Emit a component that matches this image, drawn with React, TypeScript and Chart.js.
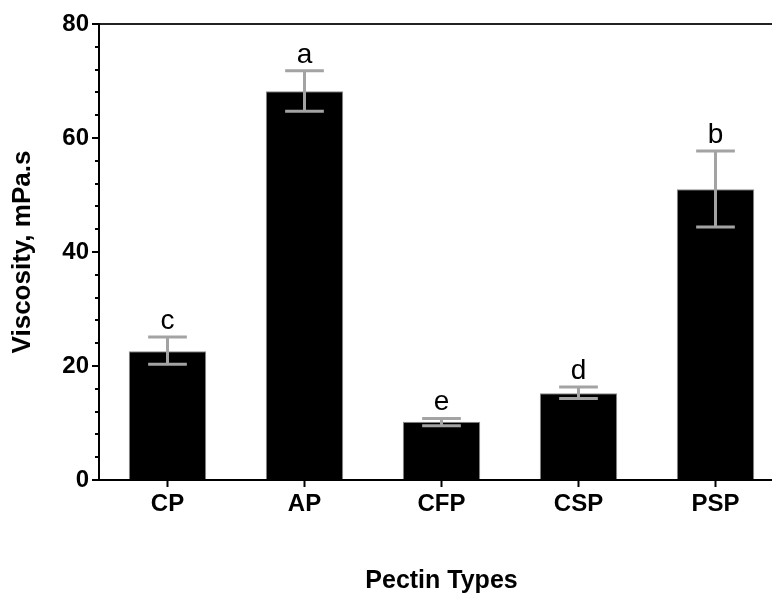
import React, { useEffect, useRef } from "react";
import { Chart, registerables } from "chart.js";

Chart.register(...registerables);

// Pectin types and their measured viscosity (mean ± error bounds)
const categories = ["CP", "AP", "CFP", "CSP", "PSP"];
const viscosity = [22.6, 68.2, 10.2, 15.2, 51.0];
const errorUpper = [25.1, 71.8, 10.8, 16.3, 57.7];
const errorLower = [20.3, 64.7, 9.5, 14.3, 44.4];
const groupLetters = ["c", "a", "e", "d", "b"];
const yTicks = [0, 20, 40, 60, 80];
const yMinorStep = 4;

const FONT = '"Liberation Sans", Arial, Helvetica, sans-serif';
const W = 790;
const H = 596;

// Error bars, significance letters and minor y ticks
const overlayPlugin = {
  id: "overlay",
  afterDatasetsDraw(chart: any) {
    const { ctx } = chart;
    const meta = chart.getDatasetMeta(0);
    const y = chart.scales.y;
    ctx.save();
    meta.data.forEach((bar: any, i: number) => {
      const x = bar.x;
      const half = bar.width / 4;
      const yu = y.getPixelForValue(errorUpper[i]);
      const yl = y.getPixelForValue(errorLower[i]);
      ctx.strokeStyle = "#a3a3a3";
      ctx.lineWidth = 3;
      ctx.lineCap = "butt";
      ctx.beginPath();
      ctx.moveTo(x, yu);
      ctx.lineTo(x, yl);
      ctx.moveTo(x - half, yu);
      ctx.lineTo(x + half, yu);
      ctx.moveTo(x - half, yl);
      ctx.lineTo(x + half, yl);
      ctx.stroke();
      ctx.fillStyle = "#000";
      ctx.font = `28px ${FONT}`;
      ctx.textAlign = "center";
      ctx.textBaseline = "alphabetic";
      ctx.fillText(groupLetters[i], x, yu - 8);
    });
    ctx.restore();
  },
  afterDraw(chart: any) {
    const { ctx } = chart;
    const y = chart.scales.y;
    const left = chart.chartArea.left;
    ctx.save();
    ctx.strokeStyle = "#000";
    ctx.lineWidth = 2;
    ctx.beginPath();
    for (let v = y.min + yMinorStep; v < y.max; v += yMinorStep) {
      if (yTicks.includes(v)) continue;
      const py = Math.round(y.getPixelForValue(v));
      ctx.moveTo(left - 4, py);
      ctx.lineTo(left, py);
    }
    ctx.stroke();
    ctx.restore();
  },
};

export default function App() {
  const canvasRef = useRef<HTMLCanvasElement | null>(null);

  useEffect(() => {
    const canvas = canvasRef.current;
    if (!canvas) return;
    const chart = new Chart(canvas, {
      type: "bar",
      data: {
        labels: categories,
        datasets: [
          {
            data: viscosity,
            backgroundColor: "#000",
            borderColor: "#8a8a8a",
            borderWidth: 1,
            barPercentage: 0.565,
            categoryPercentage: 1,
          },
        ],
      },
      options: {
        responsive: false,
        animation: false,
        devicePixelRatio: 1,
        layout: { padding: { top: 24, right: 6, left: 0, bottom: 0 } },
        plugins: {
          legend: { display: false },
          tooltip: { enabled: false },
        },
        scales: {
          x: {
            grid: {
              offset: false,
              drawOnChartArea: false,
              tickLength: 7,
              tickColor: "#000",
              tickWidth: 2,
            },
            border: { display: true, color: "#000", width: 2 },
            ticks: {
              color: "#000",
              font: { family: FONT, size: 24, weight: "bold" },
              padding: 3,
            },
            title: {
              display: true,
              text: "Pectin Types",
              color: "#000",
              font: { family: FONT, size: 25, weight: "bold" },
              padding: { top: 0, bottom: 0 },
            },
            afterFit(scale: any) {
              scale.height = H - 480;
            },
          },
          y: {
            min: 0,
            max: 80,
            afterBuildTicks(scale: any) {
              scale.ticks = yTicks.map((v) => ({ value: v }));
            },
            grid: {
              color: (c: any) => (c.tick && c.tick.value === 80 ? "#222" : "rgba(0,0,0,0)"),
              lineWidth: 2,
              tickLength: 7,
              tickColor: "#000",
              tickWidth: 2,
            },
            border: { display: true, color: "#000", width: 2 },
            ticks: {
              color: "#000",
              font: { family: FONT, size: 24, weight: "bold" },
              padding: 3,
            },
            title: {
              display: true,
              text: "Viscosity, mPa.s",
              color: "#000",
              font: { family: FONT, size: 26, weight: "bold" },
              padding: { top: 7, bottom: 0 },
            },
            afterFit(scale: any) {
              scale.width = 99;
            },
          },
        },
      },
      plugins: [overlayPlugin],
    } as any);
    return () => chart.destroy();
  }, []);

  return (
    <div
      style={{
        position: "absolute",
        left: 0,
        top: 0,
        width: 772,
        height: 596,
        overflow: "hidden",
        background: "#fff",
      }}
    >
      <canvas ref={canvasRef} width={W} height={H} style={{ display: "block", width: W, height: H }} />
    </div>
  );
}
